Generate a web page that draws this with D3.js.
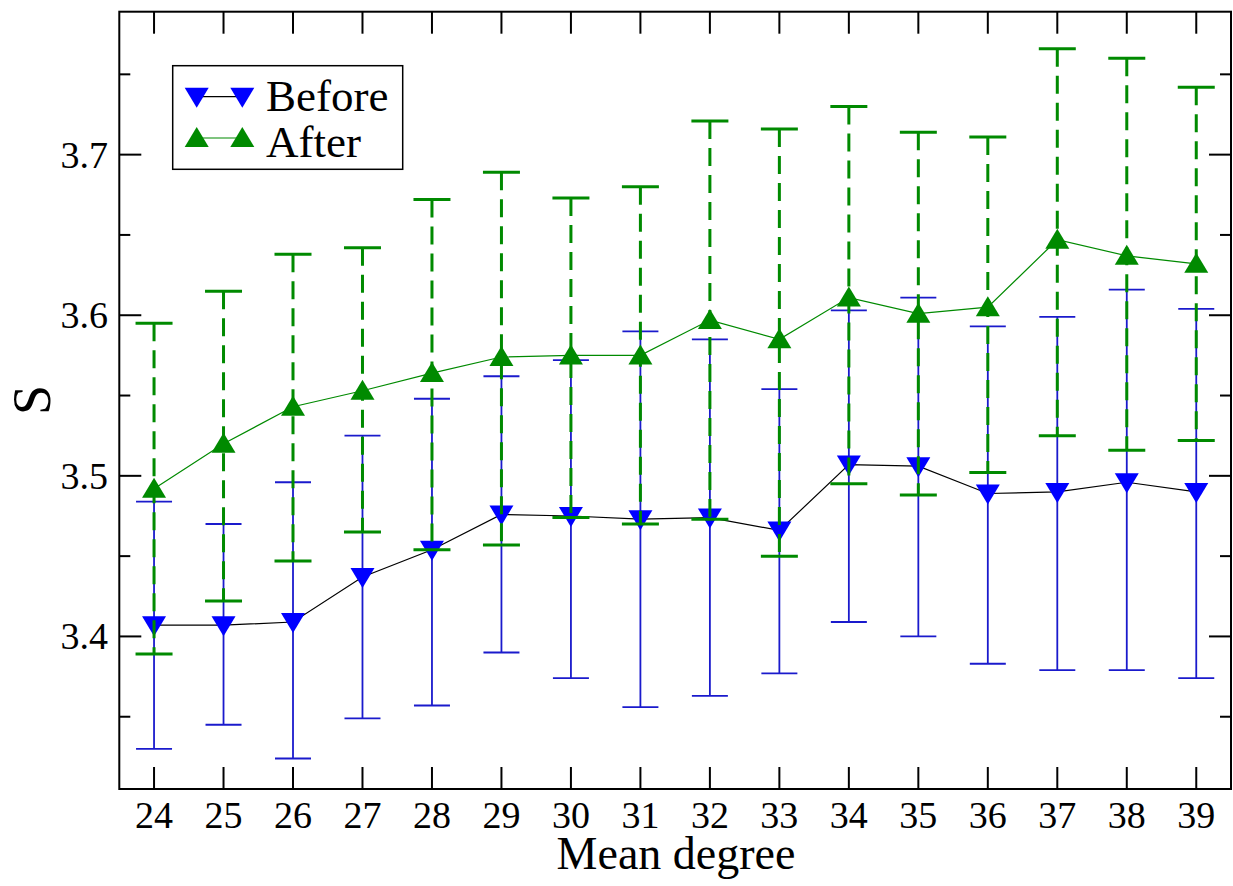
<!DOCTYPE html>
<html>
<head>
<meta charset="utf-8">
<script src="https://cdn.jsdelivr.net/npm/d3@7"></script>
<style>
  body { margin: 0; background: #fff; }
  text { font-family: "Liberation Serif", "Times New Roman", serif; fill: #000; }
</style>
</head>
<body>
<svg id="chart" width="1233" height="886"></svg>
<script>
// Mean degree on the x axis
var degrees = [24, 25, 26, 27, 28, 29, 30, 31, 32, 33, 34, 35, 36, 37, 38, 39];

// Before
var beforeMean = [3.407, 3.407, 3.409, 3.437, 3.454, 3.476, 3.475, 3.473, 3.474, 3.466, 3.507, 3.506, 3.489, 3.490, 3.496, 3.490];
var beforeHigh = [3.484, 3.470, 3.496, 3.525, 3.548, 3.562, 3.572, 3.590, 3.585, 3.554, 3.603, 3.611, 3.593, 3.599, 3.616, 3.604];
var beforeLow  = [3.330, 3.345, 3.324, 3.349, 3.357, 3.390, 3.374, 3.356, 3.363, 3.377, 3.409, 3.400, 3.383, 3.379, 3.379, 3.374];

// After
var afterMean = [3.492, 3.520, 3.543, 3.553, 3.564, 3.574, 3.575, 3.575, 3.597, 3.585, 3.611, 3.601, 3.605, 3.647, 3.637, 3.632];
var afterHigh = [3.595, 3.615, 3.638, 3.642, 3.672, 3.689, 3.673, 3.680, 3.721, 3.716, 3.730, 3.714, 3.711, 3.766, 3.760, 3.742];
var afterLow  = [3.389, 3.422, 3.447, 3.465, 3.454, 3.457, 3.474, 3.470, 3.473, 3.450, 3.495, 3.488, 3.502, 3.525, 3.516, 3.522];

// Axis ticks
var yMajor = [3.4, 3.5, 3.6, 3.7];
var yMinor = [3.35, 3.45, 3.55, 3.65, 3.75];

var svg = d3.select('#chart');
var pLeft = 119.3, pRight = 1231, pTop = 11.7, pBottom = 789;

var x = d3.scaleLinear().domain([23.5, 39.5]).range([pLeft, pRight]);
var y = d3.scaleLinear().domain([3.305, 3.789]).range([pBottom, pTop]);

var BLUE = '#0000ff', BLUE_BAR = '#1a1acc', GREEN = '#008a00';

// triangle paths
var triDown = function(cx, cy) {
  return 'M' + (cx - 12) + ',' + (cy - 9) + 'L' + (cx + 12) + ',' + (cy - 9) + 'L' + cx + ',' + (cy + 11) + 'Z';
};
var triUp = function(cx, cy) {
  return 'M' + (cx - 12) + ',' + (cy + 9) + 'L' + (cx + 12) + ',' + (cy + 9) + 'L' + cx + ',' + (cy - 11) + 'Z';
};

var makeRows = function(mean, hi, lo) {
  return degrees.map(function(d, i) { return {x: d, m: mean[i], hi: hi[i], lo: lo[i]}; });
};
var before = makeRows(beforeMean, beforeHigh, beforeLow);
var after = makeRows(afterMean, afterHigh, afterLow);

var line = d3.line().x(function(d) { return x(d.x); }).y(function(d) { return y(d.m); });

var drawBars = function(g, data, color, width, dash, capW) {
  var bars = g.selectAll('g.bar').data(data).enter().append('g').attr('class', 'bar');
  bars.append('line')
      .attr('x1', function(d) { return x(d.x); })
      .attr('x2', function(d) { return x(d.x); })
      .attr('y1', function(d) { return y(d.hi); })
      .attr('y2', function(d) { return y(d.lo); })
      .attr('stroke', color).attr('stroke-width', width)
      .attr('stroke-dasharray', dash);
  ['hi', 'lo'].forEach(function(k) {
    bars.append('line')
        .attr('x1', function(d) { return x(d.x) - capW / 2; })
        .attr('x2', function(d) { return x(d.x) + capW / 2; })
        .attr('y1', function(d) { return y(d[k]); })
        .attr('y2', function(d) { return y(d[k]); })
        .attr('stroke', color).attr('stroke-width', width);
  });
};

// Before series
var gb = svg.append('g');
gb.append('path').datum(before).attr('d', line)
  .attr('fill', 'none').attr('stroke', '#000').attr('stroke-width', 1.2);
drawBars(gb, before, BLUE_BAR, 1.8, null, 36);
gb.selectAll('path.mk').data(before).enter().append('path').attr('class', 'mk')
  .attr('d', function(d) { return triDown(x(d.x), y(d.m)); })
  .attr('fill', BLUE);

// After series
var ga = svg.append('g');
drawBars(ga, after, GREEN, 3, '18,9', 37);
ga.append('path').datum(after).attr('d', line)
  .attr('fill', 'none').attr('stroke', GREEN).attr('stroke-width', 1.2);
ga.selectAll('path.mk').data(after).enter().append('path').attr('class', 'mk')
  .attr('d', function(d) { return triUp(x(d.x), y(d.m)); })
  .attr('fill', GREEN);

// Frame
svg.append('rect')
   .attr('x', pLeft).attr('y', pTop)
   .attr('width', pRight - pLeft).attr('height', pBottom - pTop)
   .attr('fill', 'none').attr('stroke', '#000').attr('stroke-width', 2);

// Ticks (inward, all four sides)
var ticks = svg.append('g').attr('stroke', '#000').attr('stroke-width', 2);
degrees.forEach(function(d) {
  ticks.append('line').attr('x1', x(d)).attr('x2', x(d)).attr('y1', pBottom).attr('y2', pBottom - 22);
  ticks.append('line').attr('x1', x(d)).attr('x2', x(d)).attr('y1', pTop).attr('y2', pTop + 22);
});
yMajor.forEach(function(v) {
  ticks.append('line').attr('x1', pLeft).attr('x2', pLeft + 22).attr('y1', y(v)).attr('y2', y(v));
  ticks.append('line').attr('x1', pRight).attr('x2', pRight - 22).attr('y1', y(v)).attr('y2', y(v));
});
yMinor.forEach(function(v) {
  ticks.append('line').attr('x1', pLeft).attr('x2', pLeft + 11).attr('y1', y(v)).attr('y2', y(v));
  ticks.append('line').attr('x1', pRight).attr('x2', pRight - 11).attr('y1', y(v)).attr('y2', y(v));
});

// Tick labels
svg.selectAll('text.xl').data(degrees).enter().append('text').attr('class', 'xl')
   .attr('x', function(d) { return x(d); }).attr('y', 828)
   .attr('text-anchor', 'middle').style('font-size', '38px')
   .text(function(d) { return d; });
svg.selectAll('text.yl').data(yMajor).enter().append('text').attr('class', 'yl')
   .attr('x', 108).attr('y', function(d) { return y(d) + 13; })
   .attr('text-anchor', 'end').style('font-size', '38px')
   .text(function(d) { return d.toFixed(1); });

// Axis titles
svg.append('text').attr('x', 676).attr('y', 869)
   .attr('text-anchor', 'middle').style('font-size', '46px').text('Mean degree');
svg.append('text').attr('transform', 'translate(50,400) rotate(-90)')
   .attr('text-anchor', 'middle').style('font-size', '54px').text('S');

// Legend
var lg = svg.append('g');
lg.append('rect').attr('x', 172.7).attr('y', 65.7).attr('width', 230).attr('height', 103.6)
  .attr('fill', '#fff').attr('stroke', '#000').attr('stroke-width', 1.5);
var legendItems = [
  {name: 'Before', color: BLUE, lineColor: '#000', shape: triDown, cy: 96.7, ty: 111},
  {name: 'After', color: GREEN, lineColor: GREEN, shape: triUp, cy: 138, ty: 156.5}
];
legendItems.forEach(function(it) {
  lg.append('line').attr('x1', 196.7).attr('x2', 242.3).attr('y1', it.cy).attr('y2', it.cy)
    .attr('stroke', it.lineColor).attr('stroke-width', 1.2);
  lg.append('path').attr('d', it.shape(196.7, it.cy)).attr('fill', it.color);
  lg.append('path').attr('d', it.shape(242.3, it.cy)).attr('fill', it.color);
  lg.append('text').attr('x', 266).attr('y', it.ty).style('font-size', '45px').text(it.name);
});
</script>
</body>
</html>
